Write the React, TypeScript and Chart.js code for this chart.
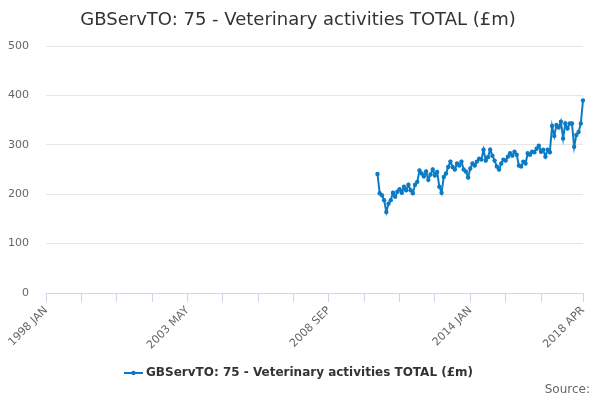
import { useEffect, useRef } from 'react';
import { Chart, registerables } from 'chart.js';

Chart.register(...registerables);

const TITLE = 'GBServTO: 75 - Veterinary activities TOTAL (£m)';
const SERIES_NAME = 'GBServTO: 75 - Veterinary activities TOTAL (£m)';

const MONTHS = ['JAN', 'FEB', 'MAR', 'APR', 'MAY', 'JUN', 'JUL', 'AUG', 'SEP', 'OCT', 'NOV', 'DEC'];
const FIRST_YEAR = 1998;
const LAST_YEAR = 2018;
const LAST_MONTH = 3; // APR

// monthly values, first one is 2010 JUL
const FIRST_VALUE_MONTH = '2010 JUL';
const values = [
  241, 202, 198, 188, 164, 181, 188, 203, 195, 205, 210, 203,
  215, 208, 219, 208, 202, 219, 225, 248, 242, 236, 246, 229,
  240, 250, 238, 245, 215, 203, 235, 242, 255, 266, 255, 250,
  262, 258, 266, 250, 246, 234, 252, 262, 258, 266, 272, 270,
  290, 268, 275, 290, 278, 268, 256, 250, 262, 270, 268, 276,
  283, 278, 286, 280, 258, 256, 266, 262, 283, 280, 286, 285,
  292, 298, 286, 290, 276, 290, 285, 338, 318, 340, 335, 347,
  313, 343, 333, 343, 343, 296, 320, 326, 343, 390,
];

const yTicks = [0, 100, 200, 300, 400, 500];
const shownLabels = ['1998 JAN', '2003 MAY', '2008 SEP', '2014 JAN', '2018 APR'];

const labels: string[] = [];
for (let y = FIRST_YEAR; y <= LAST_YEAR; y++) {
  for (let m = 0; m < 12; m++) {
    if (y === LAST_YEAR && m > LAST_MONTH) break;
    labels.push(`${y} ${MONTHS[m]}`);
  }
}

const startIdx = labels.indexOf(FIRST_VALUE_MONTH);
const data: (number | null)[] = labels.map((_, i) =>
  i >= startIdx && i - startIdx < values.length ? values[i - startIdx] : null
);

const BLUE = '#0a7bc4';
const FONT = '"DejaVu Sans", Verdana, sans-serif';

const extras = {
  id: 'extras',
  afterDraw(chart: Chart) {
    const ctx = chart.ctx;
    ctx.save();
    ctx.fillStyle = '#333333';
    ctx.font = `18px ${FONT}`;
    ctx.textAlign = 'center';
    ctx.textBaseline = 'alphabetic';
    ctx.fillText(TITLE, 298, 25);

    // legend
    ctx.strokeStyle = BLUE;
    ctx.lineWidth = 2;
    ctx.beginPath();
    ctx.moveTo(124, 373);
    ctx.lineTo(143, 373);
    ctx.stroke();
    ctx.fillStyle = BLUE;
    ctx.beginPath();
    ctx.arc(133.5, 373, 2.2, 0, Math.PI * 2);
    ctx.fill();
    ctx.fillStyle = '#333333';
    ctx.font = `bold 12px ${FONT}`;
    ctx.textAlign = 'left';
    ctx.textBaseline = 'middle';
    ctx.fillText(SERIES_NAME, 146, 373);

    ctx.fillStyle = '#666666';
    ctx.font = `12px ${FONT}`;
    ctx.textAlign = 'right';
    ctx.fillText('Source:', 590, 390);
    ctx.restore();
  },
};

export default function App() {
  const canvasRef = useRef<HTMLCanvasElement>(null);

  useEffect(() => {
    document.body.style.margin = '0';
    if (!canvasRef.current) return;

    const chart = new Chart(canvasRef.current, {
      type: 'line',
      data: {
        labels,
        datasets: [{
          label: SERIES_NAME,
          data,
          borderColor: BLUE,
          backgroundColor: BLUE,
          borderWidth: 2,
          pointRadius: 2.2,
          pointBorderWidth: 0,
          pointHoverRadius: 2.2,
          tension: 0,
          spanGaps: false,
        }],
      },
      options: {
        responsive: false,
        animation: false,
        layout: { padding: { top: 46, left: 0, right: 17, bottom: 0 } },
        plugins: {
          legend: { display: false },
          title: { display: false },
          tooltip: { enabled: false },
        },
        scales: {
          x: {
            type: 'category',
            afterFit: (scale: any) => { scale.height = 107; },
            grid: {
              drawOnChartArea: false,
              drawTicks: true,
              tickLength: 9,
              color: '#ccd6eb',
            },
            border: { color: '#ccd6eb' },
            ticks: {
              autoSkip: false,
              minRotation: 45,
              maxRotation: 45,
              padding: 2,
              color: '#666666',
              font: { family: FONT, size: 11 },
              callback: (_v: any, i: number) => {
                const l = labels[i];
                if (shownLabels.includes(l)) return l;
                if (i % 16 === 0 && i < labels.length - 16) return '';
                return null;
              },
            },
          },
          y: {
            min: yTicks[0],
            max: yTicks[yTicks.length - 1],
            afterFit: (scale: any) => { scale.width = 46; },
            afterBuildTicks: (scale: any) => { scale.ticks = yTicks.map((v) => ({ value: v })); },
            grid: { color: '#e6e6e6', drawTicks: false },
            border: { display: false },
            ticks: {
              padding: 17,
              color: '#666666',
              font: { family: FONT, size: 11 },
            },
          },
        },
      },
      plugins: [extras],
    });

    return () => chart.destroy();
  }, []);

  return (
    <div style={{ width: 600, height: 400 }}>
      <canvas ref={canvasRef} width={600} height={400}></canvas>
    </div>
  );
}
